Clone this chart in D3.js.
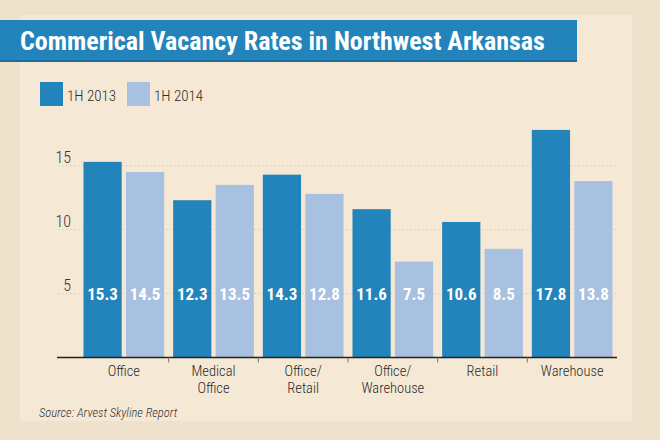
<!DOCTYPE html>
<html><head><meta charset="utf-8">
<script src="https://cdn.jsdelivr.net/npm/d3@7"></script>
<style>
html,body{margin:0;padding:0;background:#efe2cc;}
svg{display:block;}
text{font-family:"Roboto Condensed","Open Sans Condensed","DejaVu Sans Condensed",sans-serif;}
</style></head>
<body>
<svg id="c" width="660" height="440"></svg>
<script>
const title = "Commerical Vacancy Rates in Northwest Arkansas";
const categories = [["Office"],["Medical","Office"],["Office/","Retail"],["Office/","Warehouse"],["Retail"],["Warehouse"]];
const seriesNames = ["1H 2013","1H 2014"];
const values2013 = [15.3, 12.3, 14.3, 11.6, 10.6, 17.8];
const values2014 = [14.5, 13.5, 12.8, 7.5, 8.5, 13.8];
const yTicks = [5, 10, 15];
const source = "Source: Arvest Skyline Report";
const colors = ["#2284ba", "#a8c1e0"];

const svg = d3.select("#c");
svg.append("rect").attr("width",660).attr("height",440).attr("fill","#efe2cc");
svg.append("rect").attr("x",20).attr("y",15).attr("width",612).attr("height",406).attr("fill","#f5e9d6");

// title bar
svg.append("rect").attr("x",0).attr("y",22).attr("width",577).attr("height",40).attr("fill","#1c6d9c");
svg.append("rect").attr("x",0).attr("y",20).attr("width",577).attr("height",40).attr("fill","#2284ba");
const t = svg.append("text").attr("x",20).attr("y",50).attr("fill","#fff")
  .attr("font-weight","bold").attr("font-size",26).text(title);
const tw = t.node().getComputedTextLength();
t.attr("font-size", 26*525/tw);

const keys = d3.range(categories.length);
const x0 = d3.scaleBand().domain(keys).range([79,617]).paddingInner(0.1).paddingOuter(0.05);
const x1 = d3.scaleBand().domain([0,1]).range([0,x0.bandwidth()]).paddingInner(0.1);
const y = d3.scaleLinear().domain([0,15]).range([357.5,165.7]);

// legend
const lg = svg.append("g");
seriesNames.forEach((s,i)=>{
  const lx = 40 + i*87;
  lg.append("rect").attr("x",lx).attr("y",82).attr("width",23).attr("height",24).attr("fill",colors[i]);
  lg.append("text").attr("x",lx+27).attr("y",101).attr("font-size",15).attr("font-weight",300)
    .attr("fill","#2a2a2a").text(s);
});

// gridlines
const grid = svg.append("g");
yTicks.forEach(v=>{
  grid.append("line").attr("x1",58).attr("x2",618).attr("y1",y(v)).attr("y2",y(v))
    .attr("stroke","#e2d2b8").attr("stroke-width",1).attr("stroke-dasharray","2,2");
});
// y labels
const yAxis = d3.axisLeft(y).tickValues(yTicks).tickSize(0).tickPadding(0).tickFormat(d3.format("d"));
const ya = svg.append("g").attr("transform","translate(71,-8)").call(yAxis);
ya.select(".domain").remove();
ya.selectAll("text").attr("font-size",16).attr("fill","#333")
  .style("font-family",'"Roboto Condensed",sans-serif').style("font-weight",300);

// bars
const groups = svg.append("g").selectAll("g").data(keys).join("g")
  .attr("transform",d=>`translate(${x0(d)},0)`);
groups.each(function(k){
  const g = d3.select(this);
  const vals = [values2013[k], values2014[k]];
  vals.forEach((v,i)=>{
    g.append("rect").attr("x",x1(i)).attr("y",y(v)).attr("width",x1.bandwidth())
      .attr("height",y(0)-y(v)).attr("fill",colors[i]);
    g.append("text").attr("x",x1(i)+x1.bandwidth()/2).attr("y",y(5)).attr("dy","0.36em")
      .attr("text-anchor","middle").attr("fill","#fff").attr("font-weight","bold")
      .attr("font-size",17).text(v.toFixed(1));
  });
});

// x axis baseline + ticks
svg.append("line").attr("x1",57).attr("x2",617).attr("y1",y(0)).attr("y2",y(0))
  .attr("stroke","#222").attr("stroke-width",1.5);
keys.slice(1).forEach(k=>{
  const bx = x0(k) - x0.step()*x0.paddingInner()/2;
  svg.append("line").attr("x1",bx).attr("x2",bx).attr("y1",y(0)).attr("y2",y(0)+5)
    .attr("stroke","#777").attr("stroke-width",1);
});
// category labels
keys.forEach(k=>{
  const cx = x0(k)+x0.bandwidth()/2;
  categories[k].forEach((l,i)=>{
    svg.append("text").attr("x",cx).attr("y",376+i*17)
      .attr("text-anchor","middle").attr("font-size",14.5).attr("font-weight",300)
      .attr("fill","#2a2a2a").text(l);
  });
});

// source
svg.append("text").attr("x",39).attr("y",417).attr("font-size",12.5).attr("font-style","italic")
  .attr("font-weight",300).attr("fill","#333").text(source);
</script>
</body></html>
